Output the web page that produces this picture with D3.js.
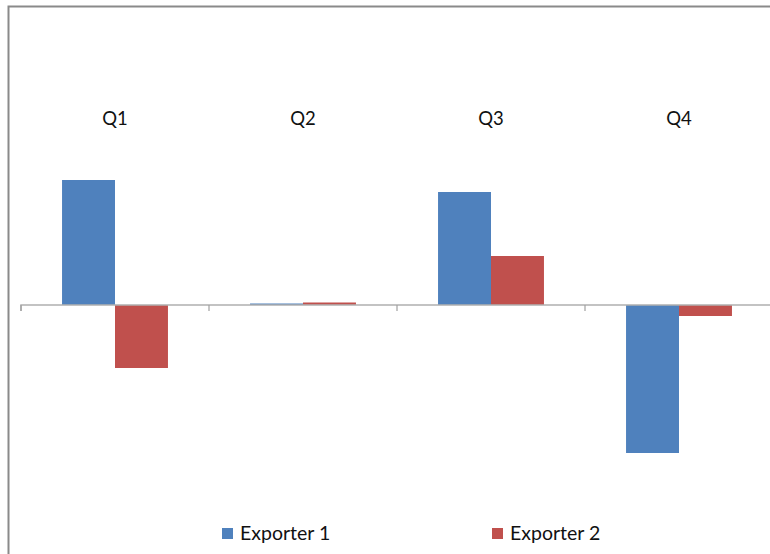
<!DOCTYPE html>
<html><head><meta charset="utf-8">
<script src="https://cdn.jsdelivr.net/npm/d3@7"></script>
<style>html,body{margin:0;padding:0;background:#fff;overflow:hidden}</style>
</head><body>
<svg id="c" width="770" height="554"></svg>
<script>
const categories = ["Q1", "Q2", "Q3", "Q4"];
const seriesNames = ["Exporter 1", "Exporter 2"];
const exporter1 = [12.5, 0.15, 11.3, -14.8];
const exporter2 = [-6.3, 0.25, 4.9, -1.1];
const colors = ["#4F81BD", "#C0504D"];

const svg = d3.select("#c");
const font = "Lato, 'Open Sans', sans-serif";

// outer frame
svg.append("rect").attr("x", 8.5).attr("y", 6.5).attr("width", 800).attr("height", 600)
  .attr("fill", "#fff").attr("stroke", "#8a8a8a").attr("stroke-width", 2);

const x = d3.scaleBand().domain(categories).range([21, 773]).paddingInner(0).paddingOuter(0);
const xs = d3.scaleBand().domain(seriesNames).range([0, x.bandwidth()]).paddingInner(0).paddingOuter(0.775);
const y = d3.scaleLinear().domain([-20, 30]).range([505, 5]);

const data = [exporter1, exporter2];

// bars
categories.forEach((c, i) => {
  seriesNames.forEach((s, j) => {
    const v = data[j][i];
    svg.append("rect")
      .attr("x", x(c) + xs(s))
      .attr("width", xs.bandwidth())
      .attr("y", y(Math.max(0, v)))
      .attr("height", Math.abs(y(v) - y(0)))
      .attr("fill", colors[j]);
  });
});

// axis line
const axis = d3.axisBottom(x).tickSize(6).tickFormat("");
const ag = svg.append("g").attr("transform", `translate(0,${y(0)})`).call(axis);
ag.select(".domain").attr("stroke", "#b0b0b0").attr("stroke-width", 1.5)
  .attr("d", `M21,6V0H773`);
ag.selectAll(".tick").remove();
const boundaries = d3.range(categories.length + 1).map(i => 21 + i * x.step());
ag.selectAll("line.b").data(boundaries).enter().append("line")
  .attr("x1", d => d).attr("x2", d => d).attr("y1", 0).attr("y2", 6)
  .attr("stroke", "#a0a0a0").attr("stroke-width", 1.2);

// category labels at top
svg.selectAll("text.cat").data(categories).enter().append("text")
  .attr("x", d => x(d) + x.bandwidth() / 2)
  .attr("y", 125)
  .attr("text-anchor", "middle")
  .attr("font-family", font).attr("font-size", 18.5).attr("fill", "#111")
  .text(d => d);

// legend
const legX = [222, 492];
seriesNames.forEach((s, j) => {
  svg.append("rect").attr("x", legX[j]).attr("y", 528).attr("width", 11).attr("height", 11)
    .attr("fill", colors[j]);
  svg.append("text").attr("x", legX[j] + 18).attr("y", 540)
    .attr("font-family", font).attr("font-size", 19.5).attr("fill", "#111")
    .text(s);
});
</script>
</body></html>
